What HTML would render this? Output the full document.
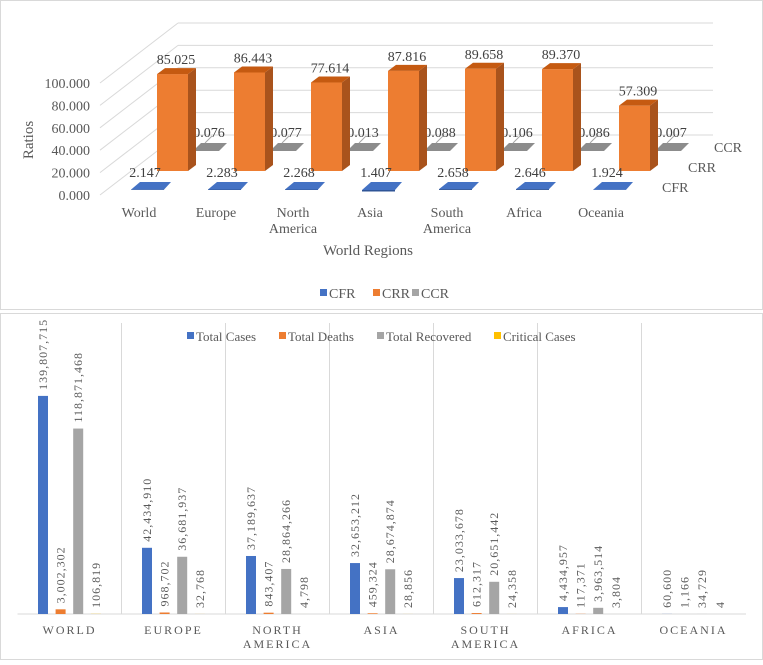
<!DOCTYPE html>
<html><head><meta charset="utf-8"><style>
body{margin:0;background:#fff;width:763px;height:660px;overflow:hidden}
svg text{font-family:"Liberation Serif",serif}
</style></head><body>
<svg id="s" width="763" height="660" xmlns="http://www.w3.org/2000/svg">
<rect x="0.5" y="0.5" width="762" height="309" fill="#fff" stroke="#d9d9d9"/>
<rect x="0.5" y="313.5" width="762" height="346" fill="#fff" stroke="#d9d9d9"/>
<g id="topg"></g><g id="botg"></g>
</svg>
<script>
const regions = ["World","Europe","North America","Asia","South America","Africa","Oceania"];
const cfr = [2.147,2.283,2.268,1.407,2.658,2.646,1.924];
const crr = [85.025,86.443,77.614,87.816,89.658,89.370,57.309];
const ccr = [0.076,0.077,0.013,0.088,0.106,0.086,0.007];
const ratioTicks = [0,20,40,60,80,100];
const cats = ["WORLD","EUROPE","NORTH|AMERICA","ASIA","SOUTH|AMERICA","AFRICA","OCEANIA"];
const totalCases = [139807715,42434910,37189637,32653212,23033678,4434957,60600];
const totalDeaths = [3002302,968702,843407,459324,612317,117371,1166];
const totalRecovered = [118871468,36681937,28864266,28674874,20651442,3963514,34729];
const criticalCases = [106819,32768,4798,28856,24358,3804,4];

const NS="http://www.w3.org/2000/svg";
function mk(p,tag,at,txt){const e=document.createElementNS(NS,tag);for(const k in at)e.setAttribute(k,at[k]);if(txt!==undefined)e.textContent=txt;p.appendChild(e);return e;}
const topG=document.getElementById('topg'), botG=document.getElementById('botg');
const fmt3=v=>v.toFixed(3), fmtC=v=>v.toLocaleString('en-US');

// ---- top 3D chart ----
const yFront=v=>195-v*1.12;
ratioTicks.forEach((t,i)=>{
  const y=yFront(t);
  let l=mk(topG,'line',{x1:100,y1:y,x2:178,y2:y-60,stroke:'#d9d9d9'});
  
  
  l=mk(topG,'line',{x1:178,y1:y-60,x2:713,y2:y-60,stroke:'#d9d9d9'});
  
  
  const tx=mk(topG,'text',{x:90,y:y+5,'text-anchor':'end','font-size':14,fill:'#595959'},fmt3(t));
  
  
});
const step=77;
regions.forEach((r,i)=>{
  const x0=157+i*step;
  const cy=151;
  let g=mk(topG,'polygon',{points:`${x0+36},${cy} ${x0+62},${cy} ${x0+70},${cy-8} ${x0+44},${cy-8}`,fill:'#8c8c8c'});
  
  
  mk(topG,'line',{x1:x0+48,y1:cy-8,x2:x0+55,y2:cy-15,stroke:'#a6a6a6'});
  let t=mk(topG,'text',{x:x0+52,y:cy-14,'text-anchor':'middle','font-size':14,fill:'#404040'},fmt3(ccr[i]));
  
  
  const b=171, h=crr[i]*1.14, y=b-h;
  let f=mk(topG,'rect',{x:x0,y:y,width:31,height:h,fill:'#ED7D31'});
  
  
  mk(topG,'polygon',{points:`${x0+31},${y} ${x0+39},${y-6} ${x0+39},${b-6} ${x0+31},${b}`,fill:'#A9531C'});
  mk(topG,'polygon',{points:`${x0},${y} ${x0+8},${y-6} ${x0+39},${y-6} ${x0+31},${y}`,fill:'#C55A11'});
  t=mk(topG,'text',{x:x0+19,y:y-10,'text-anchor':'middle','font-size':14,fill:'#404040'},fmt3(crr[i]));
  
  
  const fy=190, fh=Math.max(cfr[i]*1.1,2);
  g=mk(topG,'polygon',{points:`${x0-26},${fy-fh+2} ${x0+7},${fy-fh+2} ${x0+14},${fy-8} ${x0-17},${fy-8}`,fill:'#4472C4'});
  
  
  mk(topG,'rect',{x:x0-26,y:fy-fh+2,width:33,height:fh>2?fh-2:1.5,fill:'#2F5597'});
  t=mk(topG,'text',{x:x0-12,y:fy-13,'text-anchor':'middle','font-size':14,fill:'#404040'},fmt3(cfr[i]));
  
  
  r.split(' ').forEach((p,k)=>{const c=mk(topG,'text',{x:x0-18,y:217+k*16,'text-anchor':'middle','font-size':14,fill:'#595959'},p);
    
    });
});
[['CCR',714,152],['CRR',688,172],['CFR',662,192]].forEach(([s,x,y])=>{
  const t=mk(topG,'text',{x:x,y:y,'font-size':14,fill:'#595959'},s);
  
  
});
let tt=mk(topG,'text',{x:368,y:255,'text-anchor':'middle','font-size':15,fill:'#595959'},'World Regions');


tt=mk(topG,'text',{x:0,y:0,'text-anchor':'middle','font-size':15,fill:'#595959',transform:'translate(33,140) rotate(-90)'},'Ratios');


[['CFR','#4472C4',320],['CRR','#ED7D31',373],['CCR','#A5A5A5',412]].forEach(([s,c,x])=>{
  const g=mk(topG,'g',{});
  
  
  mk(g,'rect',{x:x,y:289,width:7,height:7,fill:c});
  mk(g,'text',{x:x+9,y:298,'font-size':14,fill:'#595959'},s);
});

// ---- bottom chart ----
const base=614, left=17.5, cw=104, ys=v=>v/1e6*1.56;
mk(botG,'line',{x1:left,y1:base,x2:746,y2:base,stroke:'#d9d9d9'});
for(let i=1;i<7;i++){const l=mk(botG,'line',{x1:left+i*cw,y1:323,x2:left+i*cw,y2:base,stroke:'#d9d9d9'});
  
  }
const series=[[totalCases,'#4472C4','total-cases'],[totalDeaths,'#ED7D31','total-deaths'],[totalRecovered,'#A5A5A5','total-recovered'],[criticalCases,'#FFC000','critical-cases']];
cats.forEach((c,i)=>{
  series.forEach(([arr,col,nm],k)=>{
    const x=left+i*cw+20.5+k*17.6, h=ys(arr[i]);
    const r=mk(botG,'rect',{x:x,y:base-h,width:10,height:h,fill:col});
    
    
    const t=mk(botG,'text',{x:0,y:0,'font-size':12,fill:'#595959','letter-spacing':'1',transform:`translate(${x+9},${base-h-6}) rotate(-90)`},fmtC(arr[i]));
    
    
  });
  c.split('|').forEach((p,k)=>{const t=mk(botG,'text',{x:left+i*cw+cw/2,y:634+k*14,'text-anchor':'middle','font-size':12,fill:'#595959','letter-spacing':'2'},p);
    
    });
});
[['Total Cases','#4472C4',187],['Total Deaths','#ED7D31',279],['Total Recovered','#A5A5A5',377],['Critical Cases','#FFC000',494]].forEach(([s,c,x])=>{
  const g=mk(botG,'g',{});
  
  
  mk(g,'rect',{x:x,y:332,width:7,height:7,fill:c});
  mk(g,'text',{x:x+9,y:341,'font-size':13,fill:'#595959'},s);
});
</script>
</body></html>
